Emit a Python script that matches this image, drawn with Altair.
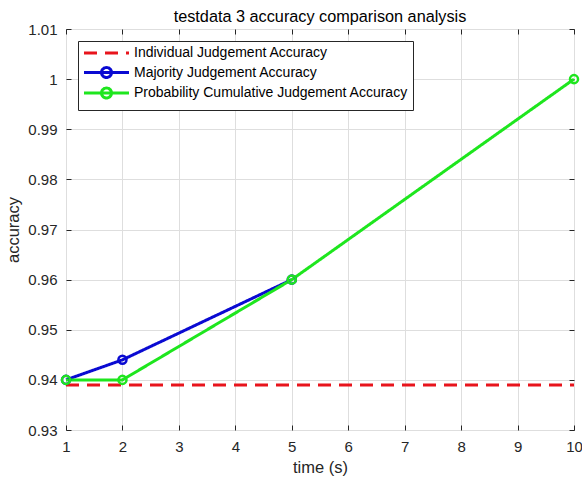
import altair as alt
import pandas as pd

# ---- data ----
series_names = [
    "Individual Judgement Accuracy",
    "Majority Judgement Accuracy",
    "Probability Cumulative Judgement Accuracy",
]
individual_time = [1, 2, 5, 10]
individual_acc = [0.939, 0.939, 0.939, 0.939]
majority_time = [1, 2, 5]
majority_acc = [0.940, 0.944, 0.960]
probability_time = [1, 2, 5, 10]
probability_acc = [0.940, 0.940, 0.960, 1.000]

x_ticks = [1, 2, 3, 4, 5, 6, 7, 8, 9, 10]
y_ticks = [0.93, 0.94, 0.95, 0.96, 0.97, 0.98, 0.99, 1.0, 1.01]

colors = ["#e8141c", "#0a0ad2", "#1ee61e"]
dashes = [[13, 8], [1, 0], [1, 0]]

# legend glyphs: plain line for the dashed series, line + circle for the others
# (the zero-length moves give every glyph the same height)
GLYPH_LINE = "M3.3,-1M3.3,1M-1.2,0H7.8"
GLYPH_MARK = "M3.3,-1M3.3,1M-1.2,0H7.8M4.3,0A1,1,0,1,1,2.3,0A1,1,0,1,1,4.3,0"

rows = []
for t, v in zip(individual_time, individual_acc):
    rows.append({"series": series_names[0], "time": t, "acc": v, "marker": False})
for t, v in zip(majority_time, majority_acc):
    rows.append({"series": series_names[1], "time": t, "acc": v, "marker": True})
for t, v in zip(probability_time, probability_acc):
    rows.append({"series": series_names[2], "time": t, "acc": v, "marker": True})
df = pd.DataFrame(rows)

FONT = "Liberation Sans"
AX = "#262626"

xscale = alt.Scale(domain=[1, 10], nice=False, zero=False)
yscale = alt.Scale(domain=[0.93, 1.01], nice=False, zero=False)
sscale = alt.Scale(domain=series_names, range=colors)

common_axis = dict(
    tickSize=5, tickColor=AX, tickWidth=1, offset=-5, domain=False,
    labelFont=FONT, labelFontSize=15, labelColor=AX,
    titleFont=FONT, titleFontSize=16.5, titleFontWeight="normal", titleColor=AX,
    gridColor="#dedede", gridWidth=1,
)

symbol_expr = "datum.value === '%s' ? '%s' : '%s'" % (series_names[0], GLYPH_LINE, GLYPH_MARK)
legend = alt.Legend(
    orient="top-left", offset=12, title=None,
    symbolType=alt.ExprRef(expr=symbol_expr),
)

base = alt.Chart(df)

lines = base.mark_line(strokeWidth=3, strokeCap="butt").encode(
    x=alt.X("time:Q", scale=xscale,
            axis=alt.Axis(orient="bottom", values=x_ticks, format="d", grid=True,
                          labelPadding=9, labelFlush=False, title="time (s)",
                          titlePadding=5, **common_axis)),
    y=alt.Y("acc:Q", scale=yscale,
            axis=alt.Axis(orient="left", values=y_ticks, format="~g", grid=True,
                          labelPadding=9, labelFlush=False, title="accuracy",
                          titlePadding=6, **common_axis)),
    color=alt.Color("series:N", scale=sscale, legend=legend),
    strokeDash=alt.StrokeDash("series:N",
                              scale=alt.Scale(domain=series_names, range=dashes),
                              legend=legend),
)

points = base.transform_filter("datum.marker").mark_point(
    filled=False, size=65, strokeWidth=2.5, shape="circle", opacity=1
).encode(
    x=alt.X("time:Q", scale=xscale,
            axis=alt.Axis(orient="top", values=x_ticks, labels=False, grid=False,
                          title=None, **common_axis)),
    y=alt.Y("acc:Q", scale=yscale,
            axis=alt.Axis(orient="right", values=y_ticks, labels=False, grid=False,
                          title=None, **common_axis)),
    color=alt.Color("series:N", scale=sscale, legend=legend),
)

chart = alt.layer(lines, points).properties(
    width=508, height=401,
    autosize="none",
    padding={"left": 66, "top": 29, "right": 8, "bottom": 52},
    background="white",
    title=alt.TitleParams(
        "testdata 3 accuracy comparison analysis",
        font=FONT, fontSize=16.25, fontWeight="normal", color="#000000",
        anchor="middle", frame="group", baseline="alphabetic", offset=6, dy=22,
    ),
).configure_view(
    stroke=AX, strokeWidth=1,
).configure_legend(
    padding=5, strokeColor=AX, fillColor="white", strokeWidth=1,
    labelFont=FONT, labelFontSize=14, labelColor="#000000",
    symbolSize=100, symbolStrokeWidth=3, labelOffset=37, rowPadding=-3.5,
    labelLimit=400, cornerRadius=0,
)

chart.save("out.html", embed_options={"renderer": "svg", "actions": False})
